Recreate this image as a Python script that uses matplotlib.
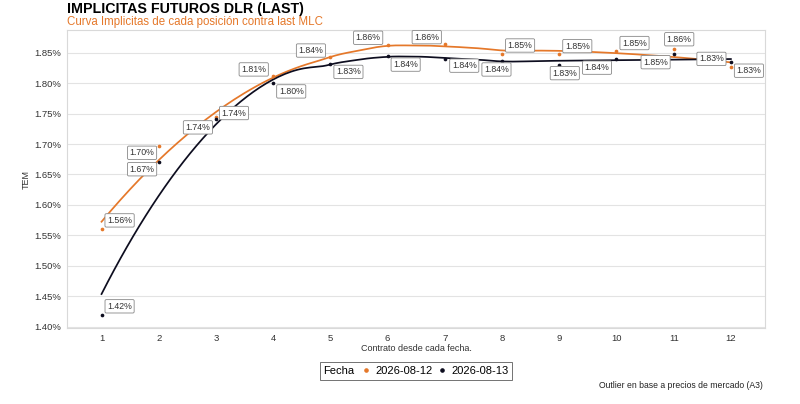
import numpy as np
import matplotlib
matplotlib.use("Agg")
import matplotlib.pyplot as plt
from matplotlib.ticker import FuncFormatter
from matplotlib.offsetbox import HPacker

plt.rcParams['font.family'] = ['Liberation Sans', 'DejaVu Sans']

# ---- data ----
contracts = [1, 2, 3, 4, 5, 6, 7, 8, 9, 10, 11, 12]
series_names = ["2026-08-12", "2026-08-13"]
tem_0812 = [1.561, 1.697, 1.744, 1.811, 1.842, 1.863, 1.864, 1.848, 1.847, 1.852, 1.856, 1.826]
tem_0813 = [1.420, 1.670, 1.741, 1.800, 1.832, 1.844, 1.840, 1.836, 1.830, 1.839, 1.848, 1.834]
yticks = [1.40, 1.45, 1.50, 1.55, 1.60, 1.65, 1.70, 1.75, 1.80, 1.85]

title = "IMPLICITAS FUTUROS DLR (LAST)"
subtitle = "Curva Implicitas de cada posición contra last MLC"
xlabel = "Contrato desde cada fecha."
ylabel = "TEM"
legend_title = "Fecha"
caption = "Outlier en base a precios de mercado (A3)"

# ---- style / layout ----
colors = ["#E5782A", "#0D0D1F"]
# label offsets in points (repel-like placement)
offs_0812 = [(13, 6), (-12, -5), (13, 3), (-14, 5), (-14, 5), (-14, 5), (-13, 5), (13, 6), (13, 6), (13, 6), (4, 7), (-14, 6)]
offs_0813 = [(13, 6), (-12, -5), (-13, -6), (13, -6), (13, -6), (13, -6), (14, -5), (-4, -6), (4, -6), (-14, -6), (-13, -6), (13, -6)]


def loess(x, y, xs, span=0.75):
    x = np.asarray(x, float); y = np.asarray(y, float)
    n = len(x); q = int(np.floor(n * span))
    out = []
    for x0 in xs:
        d = np.abs(x - x0)
        h = np.sort(d)[q - 1]
        w = np.clip(1 - (d / (h * 1.0000001)) ** 3, 0, None) ** 3
        X = np.vstack([np.ones(n), x - x0, (x - x0) ** 2]).T
        W = np.diag(w)
        beta = np.linalg.lstsq(X.T @ W @ X, X.T @ W @ y, rcond=None)[0]
        out.append(beta[0])
    return np.array(out)


fig = plt.figure(figsize=(8, 4.04), dpi=100)
ax = fig.add_axes([0.084, 0.188, 0.8725, 0.7376])
ax.set_facecolor("white")

xs = np.linspace(contracts[0], contracts[-1], 200)
for vals, c in [(tem_0812, colors[0]), (tem_0813, colors[1])]:
    ax.plot(xs, loess(contracts, vals, xs), color=c, lw=1.25, zorder=3)
    ax.scatter(contracts, vals, s=7, color=c, zorder=4, linewidths=0)
for vals, offs in [(tem_0812, offs_0812), (tem_0813, offs_0813)]:
    for xi, yi, (dx, dy) in zip(contracts, vals, offs):
        ax.annotate(f"{yi:.2f}%", (xi, yi), xytext=(dx, dy), textcoords="offset points",
                    ha="center", va="center", fontsize=6.3, color="#333333", zorder=5,
                    bbox=dict(boxstyle="round,pad=0.25,rounding_size=0.15", fc="white", ec="#888888", lw=0.6))

ax.set_xlim(0.4, 12.6)
ax.set_ylim(1.398, 1.887)
ax.set_xticks(contracts)
ax.set_yticks(yticks)
ax.yaxis.set_major_formatter(FuncFormatter(lambda v, p: f"{v:.2f}%"))
ax.grid(axis="y", color="#E3E3E3", lw=0.8)
ax.grid(axis="x", visible=False)
ax.set_axisbelow(True)
for s in ax.spines.values():
    s.set_color("#D9D9D9"); s.set_linewidth(0.8)
ax.tick_params(axis="both", length=0, labelsize=6.8, labelcolor="#333333", pad=4)
ax.set_xlabel(xlabel, fontsize=6.5, color="#333333", labelpad=1)
ax.set_ylabel(ylabel, fontsize=6.5, color="#333333", labelpad=3)

fig.text(67 / 800, 1 - 9 / 404, title, fontsize=10.3, fontweight="bold", color="black", ha="left", va="center")
fig.text(67 / 800, 1 - 22 / 404, subtitle, fontsize=8.3, color=colors[0], ha="left", va="center")
fig.text(763 / 800, 1 - 386 / 404, caption, fontsize=6.2, color="#222222", ha="right", va="center")

handles = [plt.Line2D([], [], ls="", marker="o", ms=2.3, color=c) for c in colors]
leg = fig.legend(handles, series_names, title=legend_title, loc="center", bbox_to_anchor=(416 / 800, 1 - 371 / 404),
                 ncol=2, fontsize=8, title_fontsize=8, frameon=True, fancybox=False,
                 handlelength=0.6, handletextpad=0.5, columnspacing=0.6, borderpad=0.35)
leg.get_frame().set_edgecolor("#333333"); leg.get_frame().set_linewidth(0.6)
try:
    title_box = leg._legend_title_box
    handle_box = leg._legend_handle_box
    leg._legend_box._children = [HPacker(pad=0, sep=6, align="center", children=[title_box, handle_box])]
except Exception:
    pass

fig.savefig("out.png", dpi=100, facecolor="white")
